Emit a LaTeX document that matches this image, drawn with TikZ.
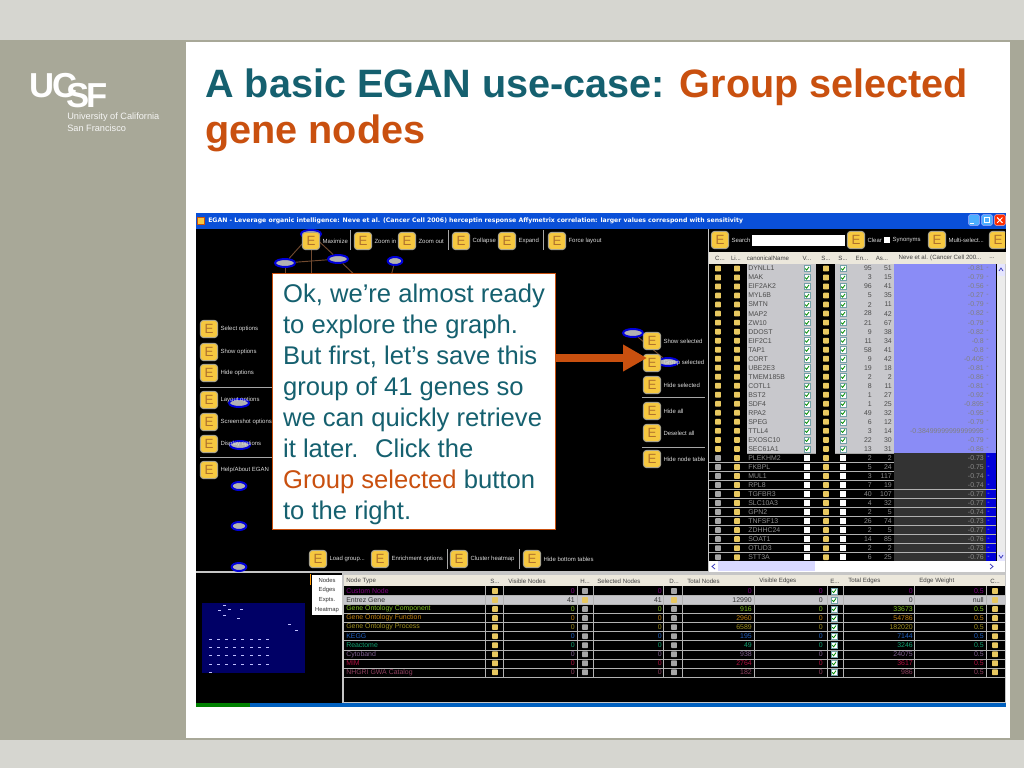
\documentclass[tikz,border=0pt]{standalone}
\usepackage{fontspec}
\setmainfont{Liberation Sans}
\newfontfamily\barfont{DejaVu Sans}
\usetikzlibrary{positioning,shapes.geometric,arrows.meta}
\definecolor{slideband}{HTML}{D6D6D0}
\definecolor{slidegray}{HTML}{A8A898}
\definecolor{teal}{HTML}{15606F}
\definecolor{rust}{HTML}{C9500F}
\definecolor{ebtnfill}{HTML}{F6C840}
\definecolor{ebtnedge}{HTML}{A8A490}
\definecolor{barblue}{HTML}{0A50D8}
\definecolor{rowgray}{HTML}{C8C8CC}
\definecolor{neveblue}{HTML}{8A8CF6}
\definecolor{headbg}{HTML}{ECE8DC}
\definecolor{edgebrown}{HTML}{70492F}
\definecolor{dotyellow}{HTML}{E8C860}
\tikzset{
  ebutton/.style={draw=ebtnedge, fill=ebtnfill, line width=0.7pt, rounded corners=2.5pt, minimum size=13pt, inner sep=0pt, text=ebtnedge!40!orange!80!black, font=\fontsize{10}{10}\selectfont},
  blabel/.style={inner sep=0pt, text=white!85!black, font=\fontsize{4.5}{5}\selectfont},
  sepline/.style={gray!70, line width=0.5pt},
  gene/.style={ellipse, draw=blue!85!black, line width=1.5pt, fill=gray!60, minimum width=15pt, minimum height=6pt, inner sep=0pt},
  geneedge/.style={edgebrown, line width=0.7pt},
  logotxt/.style={anchor=base west, inner sep=0pt, text height=18.6pt, text depth=0pt, white, font=\bfseries\fontsize{26}{26}\selectfont},
  celltxt/.style={inner sep=0pt, font=\fontsize{5.2}{6}\selectfont},
  headtxt/.style={inner sep=0pt, text=black!75, font=\fontsize{4.6}{5}\selectfont},
  dot/.style={fill=#1, rounded corners=0.5pt, minimum size=4.3pt, inner sep=0pt},
  dot/.default=dotyellow,
  scrollmark/.style={blue!50!gray, line width=0.6pt},
}
\newcommand{\ebtn}[4]{\node[ebutton] (#1) at (#2,#3) {E};
  \node[blabel, right=1.6pt of #1] (#1l) {#4};}
\newcommand{\chkbox}[3]{\node[fill=white, draw=teal!60, line width=0.3pt, minimum size=4.6pt, inner sep=0pt] (#1) at (#2,#3) {};
  \draw[green!55!black, line width=0.6pt] ([shift={(-1.4pt,0pt)}]#1.center) -- ([shift={(-0.3pt,-1.2pt)}]#1.center) -- ([shift={(1.5pt,1.2pt)}]#1.center);}
\begin{document}
\begin{tikzpicture}[x=0.75pt,y=-0.75pt]
\useasboundingbox (0,0) rectangle (1024,768);
% slide
\fill[slideband] (0,0) rectangle (1024,768);
\fill[slidegray] (0,40) rectangle (1024,740);
\fill[white] (186,42) rectangle (1010,738);
% logo
\node[logotxt] (logouc) at (29,97) {U\kern-1.5pt C};
\node[logotxt] (logosf) at (66,107) {S\kern-2pt F};
\node[anchor=base west, inner sep=0pt, white!90!slidegray, font=\fontsize{6.9}{8}\selectfont] (logoa) at (67,119) {University of California};
\node[anchor=base west, inner sep=0pt, white!90!slidegray, font=\fontsize{6.9}{8}\selectfont] (logob) at (67,131) {San Francisco};
% title
\node[anchor=base west, inner sep=0pt, font=\bfseries\fontsize{29.7}{32}\selectfont] (title) at (205,97) {\textcolor{teal}{A basic EGAN use-case:} \textcolor{rust}{Group selected}};
\node[anchor=base west, inner sep=0pt, rust, font=\bfseries\fontsize{29.7}{32}\selectfont] (titleb) at (205,143) {gene nodes};
% window
\fill[gray!45] (196,213) rectangle (1006,707);
\fill[barblue] (196,213) rectangle (1006,229);
\node[fill=ebtnfill, draw=rust, line width=0.4pt, minimum size=5pt, inner sep=0pt] (baricon) at (201,220.5) {};
\node[anchor=west, inner sep=0pt, white, font=\barfont\bfseries\fontsize{4.62}{6}\selectfont] (bartext) at (208,220.5) {EGAN - Leverage organic intelligence: Neve et al. (Cancer Cell 2006) herceptin response Affymetrix correlation: larger values correspond with sensitivity};
\node[fill=blue!45!cyan!70!white, draw=white!70!blue, line width=0.3pt, rounded corners=1pt, minimum size=8pt, inner sep=0pt] (winmin) at (974,220) {};
\node[fill=blue!45!cyan!70!white, draw=white!70!blue, line width=0.3pt, rounded corners=1pt, minimum size=8pt, inner sep=0pt] (winmax) at (987,220) {};
\node[fill=red!65!orange, draw=white!70!red, line width=0.3pt, rounded corners=1pt, minimum size=8pt, inner sep=0pt] (winclose) at (1000,220) {};
\draw[white, line width=0.7pt] (winclose.south west) ++(2pt,2pt) -- ++(4pt,4pt) ++(-4pt,0) -- ++(4pt,-4pt);
\draw[white, line width=0.5pt] (winmax.center) ++(-2pt,-2pt) rectangle ++(4pt,4pt);
\draw[white, line width=0.7pt] (winmin.south west) ++(1.5pt,1.5pt) -- ++(2.5pt,0);
% graph panel
\fill[black] (196,229) rectangle (708,571);
\node[gene] (gn1) at (311,234) {};
\node[gene] (gn2) at (285,263) {};
\node[gene] (gn3) at (338,259) {};
\node[gene, minimum width=11pt] (gn4) at (395,261) {};
\node[gene] (gn5) at (239,403) {};
\node[gene] (gn6) at (240,445) {};
\node[gene, minimum width=11pt] (gn7) at (239,486) {};
\node[gene, minimum width=11pt] (gn8) at (239,526) {};
\node[gene, minimum width=11pt] (gn9) at (239,567) {};
\node[gene] (gn10) at (633,333) {};
\node[gene] (gn11) at (668,362) {};
\coordinate (hida) at (285,280);
\coordinate (hidb) at (311,280);
\coordinate (hidc) at (360,280);
\coordinate (hidd) at (390,280);
\draw[geneedge] (gn1) -- (gn2);
\draw[geneedge] (gn1) -- (gn3);
\draw[geneedge] (gn2) -- (gn3);
\draw[geneedge] (gn1) -- (hidb);
\draw[geneedge] (gn2) -- (hida);
\draw[geneedge] (gn3) -- (hidc);
\draw[geneedge] (gn4) -- (hidd);
\draw[geneedge] (gn10) -- (gn11);
% top buttons
\ebtn{bmax}{311}{241}{Maximize}
\ebtn{bzin}{363}{241}{Zoom in}
\ebtn{bzout}{407}{241}{Zoom out}
\ebtn{bcoll}{461}{241}{Collapse}
\ebtn{bexp}{507}{241}{Expand}
\ebtn{bforce}{557}{241}{Force layout}
\foreach \sx in {350,448,543}
  \draw[sepline] (\sx,230) -- (\sx,250);
% left buttons
\ebtn{bsel}{209}{329}{Select options}
\ebtn{bshow}{209}{352}{Show options}
\ebtn{bhide}{209}{373}{Hide options}
\ebtn{blay}{209}{400}{Layout options}
\ebtn{bshot}{209}{422}{Screenshot options}
\ebtn{bdisp}{209}{444}{Display options}
\ebtn{bhelp}{209}{470}{Help/About EGAN}
\foreach \sy in {387,457}
  \draw[sepline] (200,\sy) -- (272,\sy);
% right buttons
\ebtn{rshow}{652}{341}{Show selected}
\ebtn{rgroup}{652}{363}{Group selected}
\ebtn{rhide}{652}{385}{Hide selected}
\ebtn{rall}{652}{411}{Hide all}
\ebtn{rdesel}{652}{433}{Deselect all}
\ebtn{rtable}{652}{459}{Hide node table}
\foreach \sy in {397,447}
  \draw[sepline] (642,\sy) -- (705,\sy);
% bottom buttons
\ebtn{bload}{318}{559}{Load group...}
\ebtn{benr}{380}{559}{Enrichment options}
\ebtn{bclus}{459}{559}{Cluster heatmap}
\ebtn{bbot}{532}{559}{Hide bottom tables}
\foreach \sx in {447,519}
  \draw[sepline] (\sx,549) -- (\sx,569);
% callout
\node[draw=rust, line width=1pt, fill=white, minimum width=212.5pt, minimum height=192pt, inner xsep=8pt, inner ysep=0pt, align=left, text=teal, font=\fontsize{19.2}{23.2}\selectfont] (callout) at (414,401.5) {\rule{0pt}{18.5pt}Ok, we’re almost ready\\to explore the graph.\\But first, let’s save this\\group of 41 genes so\\we can quickly retrieve\\it later.~ Click the\\\textcolor{rust}{Group selected} button\\to the right.};
\coordinate (arrowend) at (647,358);
\draw[rust, line width=6pt, -{Triangle[length=18pt,width=19pt]}] (callout.east |- arrowend) -- (arrowend);
% search bar
\fill[black] (709,229) rectangle (1006,252);
\begin{scope}
\clip (709,229) rectangle (1005,252);
\ebtn{scan}{720}{240}{Search}
\node[fill=white, minimum width=69.5pt, minimum height=8pt, inner sep=0pt] (sbox) at (798.5,240.5) {};
\ebtn{sclear}{856}{240}{Clear}
\node[fill=white, minimum size=4.5pt, inner sep=0pt] (ssyn) at (887,240) {};
\node[blabel, right=1.6pt of ssyn] (ssynl) {Synonyms};
\ebtn{smulti}{937}{240}{Multi-select...}
\node[ebutton] (send) at (998,240) {E};
\end{scope}
% gene table header
\fill[headbg] (709,252) rectangle (1006,264);
\foreach \hx/\htxt in {720/{C...},736/{Li...},768/canonicalName,807/{V...},826/{S...},843/{S...},862/{En...},882/{As...},940/{Neve et al. (Cancer Cell 200...},992/{...}}
  \node[headtxt] at (\hx,258) {\htxt};
% gene table rows
\fill[black] (709,264) rectangle (997,561);
\foreach \nm/\en/\as/\val [count=\r from 0] in {DYNLL1/95/51/-0.81,MAK/3/15/-0.79,EIF2AK2/96/41/-0.56,MYL6B/5/35/-0.27,SMTN/2/11/-0.79,MAP2/28/42/-0.82,ZW10/21/67/-0.79,DDOST/9/38/-0.82,EIF2C1/11/34/-0.8,TAP1/58/41/-0.8,CORT/9/42/-0.405,UBE2E3/19/18/-0.81,TMEM185B/2/2/-0.86,COTL1/8/11/-0.81,BST2/1/27/-0.92,SDF4/1/25/-0.895,RPA2/49/32/-0.95,SPEG/6/12/-0.79,TTLL4/3/14/-0.38499999999999995,EXOSC10/22/30/-0.79,SEC61A1/13/31/-0.86,PLEKHM2/2/2/-0.73,FKBPL/5/24/-0.75,MUL1/3/117/-0.74,RPL8/7/19/-0.74,TGFBR3/40/107/-0.77,SLC10A3/4/32/-0.77,GPN2/2/5/-0.74,TNFSF13/26/74/-0.73,ZDHHC24/2/5/-0.77,SOAT1/14/85/-0.76,OTUD3/2/2/-0.73,STT3A/6/25/-0.76} {
  \pgfmathsetmacro\yy{268.5+9.02*\r}
  \ifnum\r<21
    \fill[rowgray] (747,\yy-4.5) rectangle (816,\yy+4.5);
    \fill[rowgray] (835,\yy-4.5) rectangle (894,\yy+4.5);
    \fill[neveblue] (894,\yy-4.5) rectangle (996,\yy+4.5);
    \draw[gray!70, line width=0.25pt] (747,\yy+4.5) -- (816,\yy+4.5) (835,\yy+4.5) -- (894,\yy+4.5);
    \node[celltxt, anchor=west, text=black!70] (nm\r) at (748,\yy) {\nm};
    \node[celltxt, anchor=east, text=black!70] (en\r) at (872,\yy) {\en};
    \node[celltxt, anchor=east, text=black!70] (as\r) at (892,\yy) {\as};
    \node[celltxt, anchor=east, text=black!50] (va\r) at (984,\yy) {\val};
    \node[celltxt, anchor=west, text=black!50] (da\r) at (986,\yy) {-};
    \node[dot] (db\r) at (718,\yy) {};
    \chkbox{vb\r}{807}{\yy}
    \chkbox{sb\r}{843}{\yy}
  \else
    \fill[black!80] (894,\yy-4.5) rectangle (986,\yy+4.5);
    \fill[blue!85!black] (986,\yy-4.5) rectangle (996,\yy+4.5);
    \draw[gray!60, line width=0.25pt] (709,\yy+4.5) -- (996,\yy+4.5);
    \node[celltxt, anchor=west, text=gray!90] (nm\r) at (748,\yy) {\nm};
    \node[celltxt, anchor=east, text=gray!90] (en\r) at (872,\yy) {\en};
    \node[celltxt, anchor=east, text=gray!90] (as\r) at (892,\yy) {\as};
    \node[celltxt, anchor=east, text=gray!90] (va\r) at (984,\yy) {\val};
    \node[celltxt, anchor=west, text=gray!70] (da\r) at (987,\yy) {-};
    \node[dot=gray!70] (db\r) at (718,\yy) {};
    \node[fill=white, minimum size=5pt, inner sep=0pt] (vb\r) at (807,\yy) {};
    \node[fill=white, minimum size=5pt, inner sep=0pt] (sb\r) at (843,\yy) {};
  \fi
  \node[dot] (dc\r) at (737,\yy) {};
  \node[dot] (dd\r) at (826,\yy) {};
}
% scrollbars
\fill[gray!15] (997,264) rectangle (1005,561);
\fill[white] (709,561) rectangle (1005,572);
\fill[blue!15] (718,561) rectangle (815,571);
\fill[blue!10] (997,264) rectangle (1005,276);
\fill[blue!10] (997,552) rectangle (1005,561);
\draw[scrollmark] (999,271) -- (1001,268) -- (1003,271);
\draw[scrollmark] (999,555) -- (1001,558) -- (1003,555);
\draw[scrollmark] (715,564) -- (712,566.5) -- (715,569);
\draw[scrollmark] (990,564) -- (993,566.5) -- (990,569);
% bottom panel
\fill[black] (196,573) rectangle (342,703);
\fill[blue!40!black] (202,603) rectangle (305,673);
\foreach \mx/\my in {224/605,219/610,229/609,241/609,224/615,238/618,289/624,296/630,210/672}
  \fill[blue!25] (\mx-1.5,\my-0.5) rectangle (\mx+1.5,\my+0.5);
\foreach \my in {639,647,655,664}
  \foreach \mx in {210,218,226,234,242,251,259,267}
    \fill[blue!25] (\mx-1.5,\my-0.5) rectangle (\mx+1.5,\my+0.5);
\draw[orange!80!yellow, line width=0.6pt] (310,574) -- (310,585);
\foreach \ty/\ttxt in {580/Nodes,590/Edges,600/Expts.,610/Heatmap} {
  \node[fill=white, minimum width=22pt, minimum height=7pt, inner sep=0pt, text=black!80, font=\fontsize{4.4}{5}\selectfont] at (327,\ty) {\ttxt};
}
\fill[black] (344,575) rectangle (1005,702);
\fill[headbg] (344,575) rectangle (1005,586);
\foreach \hx/\htxt in {346/Node Type,490/{S...},508/Visible Nodes,580/{H...},597/Selected Nodes,669/{D...},687/Total Nodes,759/Visible Edges,830/{E...},848/Total Edges,919/Edge Weight,990/{C...}}
  \node[headtxt, anchor=west] at (\hx,581) {\htxt};
\foreach \tname/\tvis/\tsel/\ttot/\tedg/\twt/\tcol [count=\r from 0] in {Custom Node/0/0/0/0/0.5/800080,Entrez Gene/41/41/12990/0/null/333333,Gene Ontology Component/0/0/916/33673/0.5/80C020,Gene Ontology Function/0/0/2960/54786/0.5/C08010,Gene Ontology Process/0/0/6589/182020/0.5/A09020,KEGG/0/0/195/7144/0.5/2060C0,Reactome/0/0/49/3246/0.5/10A070,Cytoband/0/0/938/24075/0.5/806090,MIM/0/0/2764/3617/0.5/B01040,NHGRI GWA Catalog/0/0/182/986/0.5/904060} {
  \pgfmathsetmacro\yy{591+9.03*\r}
  \definecolor{tcol}{HTML}{\tcol}
  \ifnum\r=1
    \fill[rowgray] (344,\yy-4.5) rectangle (1005,\yy+4.5);
  \fi
  \draw[gray!60, line width=0.25pt] (344,\yy+4.5) -- (1005,\yy+4.5);
  \node[celltxt, anchor=west, text=tcol] (tn\r) at (346,\yy) {\tname};
  \node[celltxt, anchor=east, text=tcol] (tv\r) at (575,\yy) {\tvis};
  \node[celltxt, anchor=east, text=tcol] (ts\r) at (662,\yy) {\tsel};
  \node[celltxt, anchor=east, text=tcol] (tt\r) at (752,\yy) {\ttot};
  \node[celltxt, anchor=east, text=tcol] (tu\r) at (823,\yy) {0};
  \node[celltxt, anchor=east, text=tcol] (te\r) at (913,\yy) {\tedg};
  \node[celltxt, anchor=east, text=tcol] (tw\r) at (984,\yy) {\twt};
  \node[dot] (ta\r) at (495,\yy) {};
  \ifnum\r=1
    \node[dot] (tb\r) at (585,\yy) {};
    \node[dot] (tc\r) at (674,\yy) {};
  \else
    \node[dot=gray!70] (tb\r) at (585,\yy) {};
    \node[dot=gray!70] (tc\r) at (674,\yy) {};
  \fi
  \chkbox{tk\r}{834}{\yy}
  \node[dot] (td\r) at (995,\yy) {};
}
\foreach \cx in {485,503,577,593,663,682,754,827,843,914,986}
  \draw[gray!60, line width=0.25pt] (\cx,586) -- (\cx,677);
% bottom strip
\fill[white] (196,703) rectangle (1006,708);
\fill[blue!50!cyan!75!black] (196,703) rectangle (1006,707);
\fill[green!50!black] (196,703) rectangle (250,707);
\end{tikzpicture}
\end{document}
